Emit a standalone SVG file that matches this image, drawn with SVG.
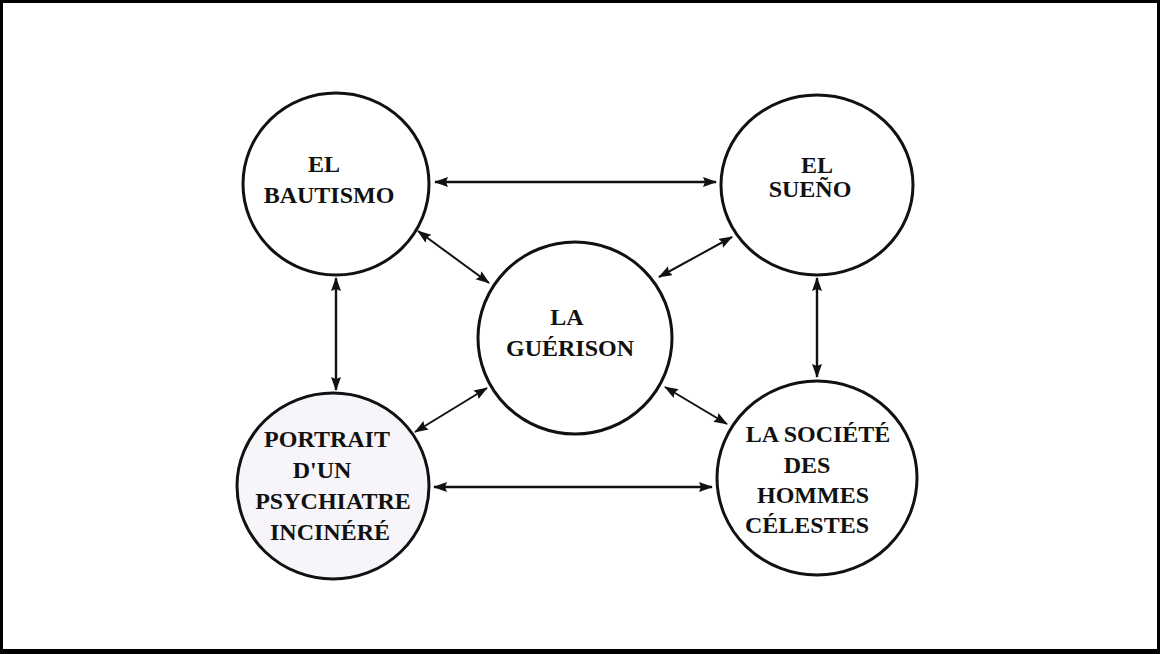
<svg xmlns="http://www.w3.org/2000/svg" width="1160" height="654" viewBox="0 0 1160 654">
<style>
.node{fill:#fff;stroke:#111;stroke-width:3}
.lbl{font-family:"Liberation Serif","DejaVu Serif",serif;font-weight:bold;font-size:24px;fill:#111;text-anchor:middle}
.con{stroke:#111;stroke-width:2.4;fill:none;marker-start:url(#ah);marker-end:url(#ah)}
.diag{stroke-width:2}
</style>
<defs>
<marker id="ah" markerUnits="userSpaceOnUse" markerWidth="15" markerHeight="11" refX="13" refY="5" orient="auto-start-reverse">
<path d="M0,0 L14,5 L0,10 L2,5 z" fill="#111"/>
</marker>
</defs>
<rect x="0" y="0" width="1160" height="654" fill="#000"/>
<rect x="3" y="3" width="1154" height="646" fill="#fff"/>
<g id="connectors">
<line class="con" x1="435" y1="182" x2="716" y2="182"/>
<line class="con" x1="434" y1="487" x2="712" y2="487"/>
<line class="con" x1="336" y1="278" x2="336" y2="390"/>
<line class="con" x1="817" y1="278" x2="817" y2="377"/>
<line class="con diag" x1="418" y1="231" x2="489" y2="283"/>
<line class="con diag" x1="732" y1="237" x2="659" y2="277"/>
<line class="con diag" x1="415" y1="432" x2="487" y2="388"/>
<line class="con diag" x1="665" y1="387" x2="727" y2="424"/>
</g>
<g id="bautismo">
<ellipse class="node" cx="336" cy="184" rx="93" ry="91"/>
<text class="lbl" x="324" y="172">EL</text>
<text class="lbl" x="329" y="203">BAUTISMO</text>
</g>
<g id="sueno">
<ellipse class="node" cx="817" cy="185" rx="96" ry="90"/>
<text class="lbl" x="817" y="173">EL</text>
<text class="lbl" x="810" y="197">SUEÑO</text>
</g>
<g id="guerison">
<ellipse class="node" cx="575" cy="338" rx="97" ry="96"/>
<text class="lbl" x="567" y="325">LA</text>
<text class="lbl" x="570" y="356">GUÉRISON</text>
</g>
<g id="portrait">
<ellipse class="node" cx="333" cy="486" rx="96" ry="93" style="fill:#f7f5fa"/>
<text class="lbl" x="327" y="447">PORTRAIT</text>
<text class="lbl" x="322" y="478">D'UN</text>
<text class="lbl" x="333" y="509">PSYCHIATRE</text>
<text class="lbl" x="330" y="540">INCINÉRÉ</text>
</g>
<g id="societe">
<ellipse class="node" cx="817" cy="478" rx="100" ry="97"/>
<text class="lbl" x="818" y="442">LA SOCIÉTÉ</text>
<text class="lbl" x="807" y="473">DES</text>
<text class="lbl" x="813" y="503">HOMMES</text>
<text class="lbl" x="807" y="533">CÉLESTES</text>
</g>
</svg>
